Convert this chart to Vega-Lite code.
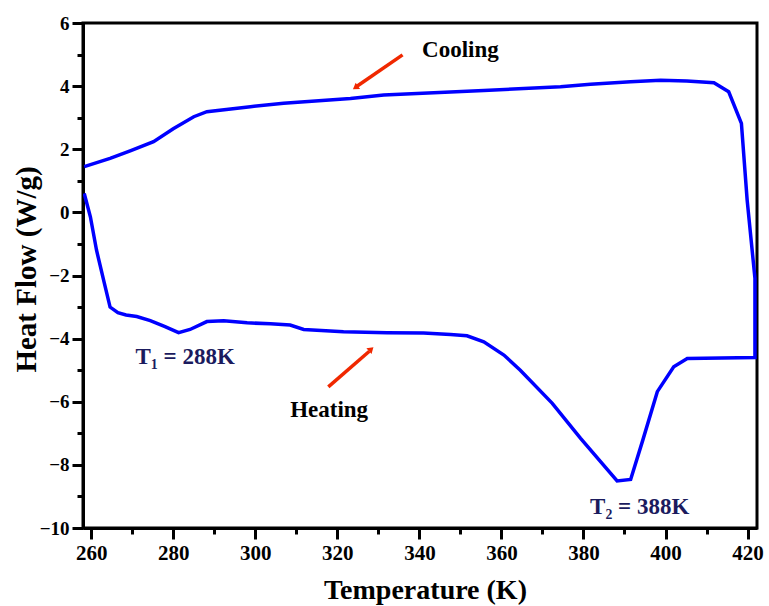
{
  "$schema": "https://vega.github.io/schema/vega-lite/v6.json",
  "width": 674,
  "height": 505,
  "autosize": {"type": "none"},
  "padding": {"left": 83, "top": 23, "right": 12, "bottom": 78},
  "background": "white",
  "config": {
    "view": {"stroke": "black", "strokeWidth": 3},
    "axis": {
      "grid": false,
      "ticks": true,
      "domainColor": "black",
      "domainWidth": 3,
      "tickColor": "#000000",
      "tickWidth": 3,
      "tickOpacity": 1,
      "labelFont": "Liberation Serif",
      "labelFontWeight": "bold",
      "labelColor": "black",
      "labelFlush": false,
      "labelOverlap": false,
      "titleFont": "Liberation Serif",
      "titleFontWeight": "bold",
      "titleColor": "black"
    }
  },
  "resolve": {"axis": {"x": "independent", "y": "independent"}},
  "datasets": {
    "curve": [
      {"i": 1, "T": 258.3, "H": 0.6},
      {"i": 2, "T": 259.8, "H": -0.14},
      {"i": 3, "T": 261.3, "H": -1.2},
      {"i": 4, "T": 263.2, "H": -2.24},
      {"i": 5, "T": 264.6, "H": -3.0},
      {"i": 6, "T": 266.5, "H": -3.18},
      {"i": 7, "T": 268.5, "H": -3.25},
      {"i": 8, "T": 271.1, "H": -3.3},
      {"i": 9, "T": 274.4, "H": -3.43},
      {"i": 10, "T": 278.0, "H": -3.62},
      {"i": 11, "T": 281.3, "H": -3.81},
      {"i": 12, "T": 284.1, "H": -3.71},
      {"i": 13, "T": 288.2, "H": -3.46},
      {"i": 14, "T": 292.3, "H": -3.43},
      {"i": 15, "T": 298.0, "H": -3.5},
      {"i": 16, "T": 303.7, "H": -3.53},
      {"i": 17, "T": 308.5, "H": -3.57},
      {"i": 18, "T": 311.8, "H": -3.71},
      {"i": 19, "T": 321.5, "H": -3.78},
      {"i": 20, "T": 332.1, "H": -3.81},
      {"i": 21, "T": 341.0, "H": -3.82},
      {"i": 22, "T": 347.6, "H": -3.87},
      {"i": 23, "T": 351.6, "H": -3.91},
      {"i": 24, "T": 355.7, "H": -4.1},
      {"i": 25, "T": 360.6, "H": -4.52},
      {"i": 26, "T": 364.6, "H": -5.0},
      {"i": 27, "T": 372.4, "H": -6.05},
      {"i": 28, "T": 379.3, "H": -7.16},
      {"i": 29, "T": 388.2, "H": -8.51},
      {"i": 30, "T": 391.5, "H": -8.46},
      {"i": 31, "T": 394.5, "H": -7.2},
      {"i": 32, "T": 398.0, "H": -5.68},
      {"i": 33, "T": 402.0, "H": -4.89},
      {"i": 34, "T": 405.3, "H": -4.63},
      {"i": 35, "T": 421.8, "H": -4.6},
      {"i": 36, "T": 421.8, "H": -2.09},
      {"i": 37, "T": 419.9, "H": 0.39},
      {"i": 38, "T": 418.5, "H": 2.82},
      {"i": 39, "T": 415.4, "H": 3.82},
      {"i": 40, "T": 411.8, "H": 4.11},
      {"i": 41, "T": 405.2, "H": 4.16},
      {"i": 42, "T": 398.8, "H": 4.19},
      {"i": 43, "T": 391.5, "H": 4.14},
      {"i": 44, "T": 381.7, "H": 4.06},
      {"i": 45, "T": 374.4, "H": 3.98},
      {"i": 46, "T": 355.7, "H": 3.86},
      {"i": 47, "T": 331.3, "H": 3.72},
      {"i": 48, "T": 323.2, "H": 3.61},
      {"i": 49, "T": 306.9, "H": 3.46},
      {"i": 50, "T": 298.8, "H": 3.35},
      {"i": 51, "T": 288.2, "H": 3.19},
      {"i": 52, "T": 285.0, "H": 3.03},
      {"i": 53, "T": 280.0, "H": 2.65},
      {"i": 54, "T": 275.2, "H": 2.24},
      {"i": 55, "T": 269.5, "H": 1.95},
      {"i": 56, "T": 264.6, "H": 1.71},
      {"i": 57, "T": 258.3, "H": 1.45}
    ],
    "coolArrow": [{"T": 335.9, "H": 4.99, "T2": 324.6, "H2": 3.98}],
    "heatArrow": [{"T": 317.8, "H": -5.53, "T2": 327.8, "H2": -4.4}],
    "coolTip": [{"T": 323.8, "H": 3.9}],
    "heatTip": [{"T": 328.8, "H": -4.27}],
    "notes": [
      {"T": 350.0, "H": 5.14, "label": "Cooling"},
      {"T": 318.0, "H": -6.26, "label": "Heating"}
    ],
    "temps": [
      {"T": 282.9, "H": -4.58, "label": "T₁ = 288K"},
      {"T": 393.7, "H": -9.33, "label": "T₂ = 388K"}
    ]
  },
  "layer": [
    {
      "data": {"name": "curve"},
      "mark": {"type": "line", "color": "#0000ff", "strokeWidth": 3.5, "clip": true},
      "encoding": {
        "x": {
          "field": "T", "type": "quantitative",
          "scale": {"domain": [258, 422.3], "nice": false, "zero": false},
          "axis": {
            "orient": "bottom",
            "title": "Temperature (K)",
            "values": [260, 280, 300, 320, 340, 360, 380, 400, 420],
            "ticks": true,
            "tickSize": 11,
            "tickWidth": 3,
            "tickColor": "#000000",
            "labelFontSize": 21,
            "labelPadding": 3,
            "titleFontSize": 28,
            "titleX": 342,
            "titleY": 70,
            "titleBaseline": "alphabetic"
          }
        },
        "y": {
          "field": "H", "type": "quantitative",
          "scale": {"domain": [-10, 6], "nice": false, "zero": false},
          "axis": {
            "orient": "left",
            "title": "Heat Flow (W/g)",
            "values": [-10, -8, -6, -4, -2, 0, 2, 4, 6],
            "ticks": true,
            "tickSize": 11,
            "tickWidth": 3,
            "tickColor": "#000000",
            "labelFontSize": 19,
            "labelPadding": 3,
            "titleFontSize": 29,
            "titleX": -42,
            "titleY": 246,
            "titleAngle": 270,
            "titleBaseline": "bottom",
            "titleAlign": "center"
          }
        },
        "order": {"field": "i", "type": "quantitative"}
      }
    },
    {
      "data": {"name": "coolArrow"},
      "mark": {"type": "rule", "color": "#f02800", "strokeWidth": 3.5},
      "encoding": {
        "x": {
          "field": "T", "type": "quantitative",
          "axis": {
            "orient": "bottom",
            "title": null,
            "values": [270, 290, 310, 330, 350, 370, 390, 410],
            "ticks": true,
            "tickSize": 6,
            "tickWidth": 3,
            "tickColor": "#000000",
            "labels": false,
            "domain": false
          }
        },
        "y": {
          "field": "H", "type": "quantitative",
          "axis": {
            "orient": "left",
            "title": null,
            "values": [-9, -7, -5, -3, -1, 1, 3, 5],
            "ticks": true,
            "tickSize": 6,
            "tickWidth": 3,
            "tickColor": "#000000",
            "labels": false,
            "domain": false
          }
        },
        "x2": {"field": "T2"},
        "y2": {"field": "H2"}
      }
    },
    {
      "data": {"name": "heatArrow"},
      "mark": {"type": "rule", "color": "#f02800", "strokeWidth": 3.5},
      "encoding": {
        "x": {"field": "T", "type": "quantitative", "axis": null},
        "y": {"field": "H", "type": "quantitative", "axis": null},
        "x2": {"field": "T2"},
        "y2": {"field": "H2"}
      }
    },
    {
      "data": {"name": "coolTip"},
      "mark": {"type": "point", "shape": "M0,0L-0.7,1.1L0.7,1.1Z", "filled": true, "color": "#f02800", "opacity": 1, "size": 120, "angle": 235},
      "encoding": {
        "x": {"field": "T", "type": "quantitative", "axis": null},
        "y": {"field": "H", "type": "quantitative", "axis": null}
      }
    },
    {
      "data": {"name": "heatTip"},
      "mark": {"type": "point", "shape": "M0,0L-0.7,1.1L0.7,1.1Z", "filled": true, "color": "#f02800", "opacity": 1, "size": 120, "angle": 48},
      "encoding": {
        "x": {"field": "T", "type": "quantitative", "axis": null},
        "y": {"field": "H", "type": "quantitative", "axis": null}
      }
    },
    {
      "data": {"name": "notes"},
      "mark": {"type": "text", "font": "Liberation Serif", "fontWeight": "bold", "fontSize": 23, "color": "black", "align": "center", "baseline": "middle"},
      "encoding": {
        "x": {"field": "T", "type": "quantitative", "axis": null},
        "y": {"field": "H", "type": "quantitative", "axis": null},
        "text": {"field": "label"}
      }
    },
    {
      "data": {"name": "temps"},
      "mark": {"type": "text", "font": "Liberation Serif", "fontWeight": "bold", "fontSize": 23, "color": "#1b1b5e", "align": "center", "baseline": "middle"},
      "encoding": {
        "x": {"field": "T", "type": "quantitative", "axis": null},
        "y": {"field": "H", "type": "quantitative", "axis": null},
        "text": {"field": "label"}
      }
    }
  ]
}
